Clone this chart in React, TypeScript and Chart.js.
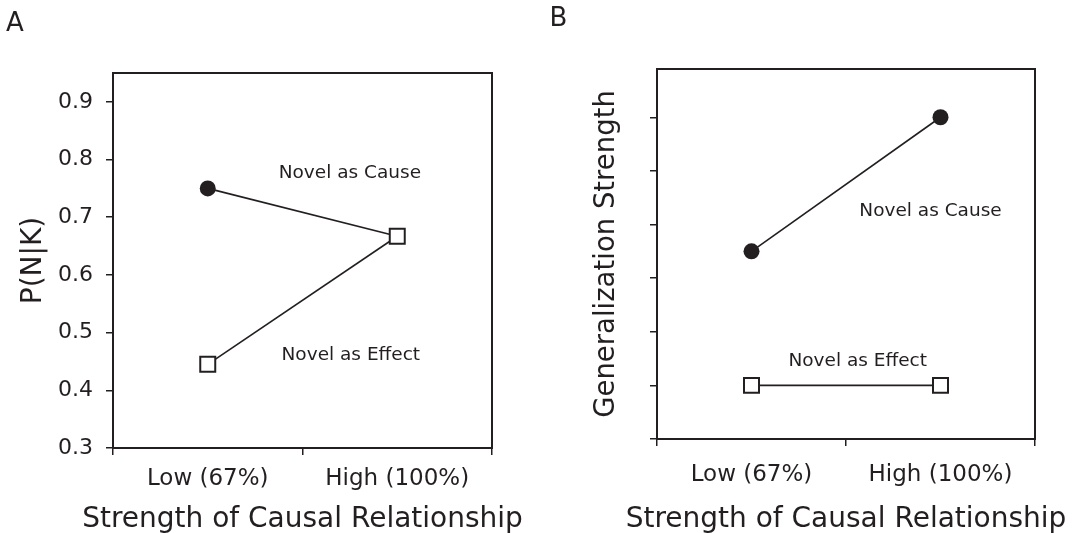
import React, { useEffect, useRef } from 'react';
import { Chart, registerables } from 'chart.js';
Chart.register(...registerables);

// ---- data ----
const categories = ['Low (67%)', 'High (100%)'];
const causeA = [0.75, 0.667];
const effectA = [0.445, 0.667];
const yTicksA = [0.3, 0.4, 0.5, 0.6, 0.7, 0.8, 0.9];
const causeB = [3.5, 6];
const effectB = [1, 1];
const yTicksB = [0, 1, 2, 3, 4, 5, 6];
const labelsA = [
  { text: 'Novel as Cause', x: 0.75, y: 0.776 },
  { text: 'Novel as Effect', x: 0.755, y: 0.461 },
];
const labelsB = [
  { text: 'Novel as Cause', x: 0.947, y: 4.25 },
  { text: 'Novel as Effect', x: 0.562, y: 1.46 },
];
const xTitle = 'Strength of Causal Relationship';

const INK = '#231f20';
const FAMILY = '"DejaVu Sans", Verdana, sans-serif';

const framePlugin = {
  id: 'frame',
  beforeDatasetsDraw(chart: any) {
    const { ctx, chartArea } = chart;
    ctx.save();
    ctx.strokeStyle = INK;
    ctx.lineWidth = 2;
    ctx.strokeRect(chartArea.left, chartArea.top, chartArea.right - chartArea.left, chartArea.bottom - chartArea.top);
    ctx.restore();
  },
};

function textPlugin(labels: any[], letter: string, lx: number, ly: number, titleY: number) {
  return {
    id: 'texts',
    afterDraw(chart: any) {
      const { ctx, chartArea } = chart;
      const xs = chart.scales.x;
      const ys = chart.scales.y;
      ctx.save();
      ctx.fillStyle = INK;
      ctx.textAlign = 'center';
      ctx.textBaseline = 'middle';
      ctx.font = `18.5px ${FAMILY}`;
      labels.forEach((l) => {
        ctx.fillText(l.text, xs.getPixelForValue(l.x), ys.getPixelForValue(l.y));
      });
      ctx.font = `28px ${FAMILY}`;
      ctx.fillText(xTitle, (chartArea.left + chartArea.right) / 2, titleY);
      ctx.font = `26px ${FAMILY}`;
      ctx.fillText(letter, lx, ly);
      ctx.restore();
    },
  };
}

function build(canvas: HTMLCanvasElement, p: any) {
  const gridOpts = { drawOnChartArea: false, drawTicks: true, tickLength: 7, color: INK, lineWidth: 1.5 };
  return new Chart(canvas, {
    type: 'line',
    data: {
      labels: categories,
      datasets: [
        {
          label: 'Novel as Effect',
          data: p.effect,
          order: 0,
          borderColor: INK,
          borderWidth: 1.6,
          pointStyle: 'rect',
          pointRadius: 10.6,
          pointBackgroundColor: '#ffffff',
          pointBorderColor: INK,
          pointBorderWidth: 2,
          fill: false,
          tension: 0,
        },
        {
          label: 'Novel as Cause',
          data: p.cause,
          order: 1,
          borderColor: INK,
          borderWidth: 1.6,
          pointStyle: 'circle',
          pointRadius: p.causeRadius,
          pointBackgroundColor: INK,
          pointBorderColor: INK,
          pointBorderWidth: 0,
          fill: false,
          tension: 0,
        },
      ],
    } as any,
    options: {
      animation: false,
      responsive: false,
      layout: { padding: { left: 0, top: p.top, right: p.right, bottom: 0 } },
      plugins: { legend: { display: false }, tooltip: { enabled: false } },
      scales: {
        x: {
          type: 'category',
          offset: true,
          grid: { ...gridOpts, offset: true },
          border: { display: true, color: INK, width: 2 },
          ticks: { color: INK, font: { family: FAMILY, size: 23 }, padding: p.xTickPad, maxRotation: 0, autoSkip: false },
          title: { display: false },
          afterFit: (s: any) => { s.height = p.xHeight; },
        },
        y: {
          type: 'linear',
          min: p.min,
          max: p.max,
          afterBuildTicks: (s: any) => { s.ticks = p.ticks.map((v: number) => ({ value: v })); },
          grid: gridOpts,
          border: { display: true, color: INK, width: 2 },
          ticks: {
            display: p.showTicks,
            color: INK,
            font: { family: FAMILY, size: 22 },
            padding: 13,
            callback: (v: any) => Number(v).toFixed(1),
          },
          title: {
            display: true,
            text: p.yTitle,
            color: INK,
            font: { family: FAMILY, size: p.yTitleSize },
            padding: { top: p.yTitlePad, bottom: 0 },
          },
          afterFit: (s: any) => { s.width = p.yWidth; },
        },
      },
    } as any,
    plugins: [framePlugin, textPlugin(p.labels, p.letter, p.lx, p.ly, 520)],
  });
}

export default function App() {
  const refA = useRef<HTMLCanvasElement>(null);
  const refB = useRef<HTMLCanvasElement>(null);
  useEffect(() => {
    const a = build(refA.current!, {
      cause: causeA, effect: effectA, causeRadius: [8, 0], ticks: yTicksA, min: 0.3, max: 0.95,
      top: 73, right: 48, xHeight: 85, yWidth: 113, xTickPad: 10, yTitle: 'P(N|K)', yTitleSize: 28, yTitlePad: 17,
      showTicks: true, labels: labelsA, letter: 'A', lx: 15, ly: 24,
    });
    const b = build(refB.current!, {
      cause: causeB, effect: effectB, causeRadius: 8, ticks: yTicksB, min: 0, max: 6.9,
      top: 69, right: 42, xHeight: 94, yWidth: 117, xTickPad: 15, yTitle: 'Generalization Strength', yTitleSize: 27.5, yTitlePad: 50,
      showTicks: false, labels: labelsB, letter: 'B', lx: 18.5, ly: 19,
    });
    return () => { a.destroy(); b.destroy(); };
  }, []);
  return (
    <div style={{ position: 'absolute', left: 0, top: 0, width: 1077, height: 533, background: '#fff', overflow: 'hidden' }}>
      <canvas ref={refA} width={540} height={533} style={{ position: 'absolute', left: 0, top: 0, width: 540, height: 533 }} />
      <canvas ref={refB} width={537} height={533} style={{ position: 'absolute', left: 540, top: 0, width: 537, height: 533 }} />
    </div>
  );
}
